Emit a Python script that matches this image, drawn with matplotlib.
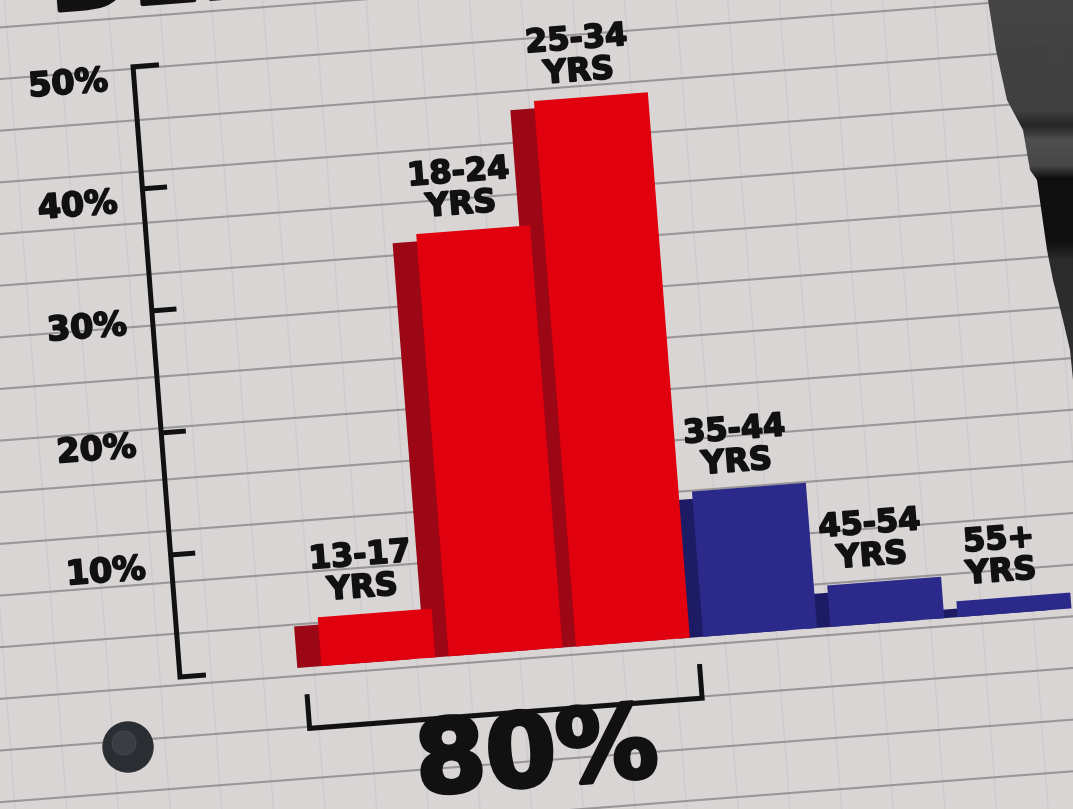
import numpy as np
import matplotlib
matplotlib.use("Agg")
import matplotlib.pyplot as plt
from matplotlib.transforms import Affine2D
from matplotlib.patches import Circle, Polygon
import matplotlib.patheffects as pe

# ---------------- data ----------------
categories = ["13-17", "18-24", "25-34", "35-44", "45-54", "55+"]
values = [4.0, 34.6, 44.7, 11.9, 3.4, 1.3]          # percent of audience
groups = ["core", "core", "core", "other", "other", "other"]
ytick_values = [10, 20, 30, 40, 50]
ytick_labels = ["10%", "20%", "30%", "40%", "50%"]
bracket_label = "80%"
title_text = "DEMOGRAPHICS"

# ---------------- style ----------------
W, H = 1073, 809
PAPER = "#d9d5d5"
RULE = "#8e8b8d"
INK = "#111111"
BRIGHT = {"core": "#e0000e", "other": "#2b2a8a"}
SHADE = {"core": "#9b0714", "other": "#1d1b63"}
ANGLE = 4.4                      # whole sheet is slightly tilted
PX_X, PX_Y = 127.6, 12.24        # pixels per bar slot / per percent
U0, V0 = 180, 132                # display position of the axis origin
X0 = U0 + 199                    # display x of first bar centre (unrotated)
BAR_W = 0.895
SHADOW = 0.19
FONT = "DejaVu Sans"
HEAVY = [pe.withStroke(linewidth=1.3, foreground=INK)]
HEAVY_BIG = [pe.withStroke(linewidth=3.0, foreground=INK)]

fig = plt.figure(figsize=(W / 100, H / 100), dpi=100)
fig.patch.set_facecolor(PAPER)

# background layer in image pixel coordinates
bg = fig.add_axes([0, 0, 1, 1], zorder=0)
bg.set_xlim(0, W)
bg.set_ylim(H, 0)
bg.axis("off")

# chart layer
ax = fig.add_axes([0, 0, 1, 1], zorder=1)
ax.axis("off")
ax.set_xlim(-X0 / PX_X, (W - X0) / PX_X)
ax.set_ylim(-V0 / PX_Y, (H - V0) / PX_Y)
rot = Affine2D().rotate_deg_around(U0, V0, ANGLE)
tr = ax.transData + rot

# ruled paper lines (in tilted frame)
for k in range(-8, 18):
    val = (-8 + 51.5 * k) / PX_Y
    bg.plot([-6, 10], [val, val], transform=tr, color=RULE, lw=1.5,
            alpha=0.85, zorder=1, solid_capstyle="butt")
# faint vertical grid of the paper
for k in range(-6, 24):
    xv = (-199 + 51.5 * k - 20) / PX_X
    bg.plot([xv, xv], [-40, 80], transform=tr, color="#bdb8b9",
            lw=1.0, alpha=0.35, zorder=0.5)

# dark background beyond the torn paper edge (top right)
edge = [(988, 0), (996, 50), (1007, 100), (1023, 130), (1030, 170),
        (1037, 180), (1047, 250), (1053, 280), (1063, 320), (1070, 350),
        (1073, 380), (1073, 0)]
poly = Polygon(edge, closed=True, facecolor="none", lw=0, zorder=3)
bg.add_patch(poly)
stops_y = [0, 110, 125, 140, 165, 178, 240, 260, 380]
stops_g = [0.27, 0.25, 0.15, 0.31, 0.28, 0.06, 0.06, 0.17, 0.19]
yy = np.arange(H)
gray = np.interp(yy, stops_y, stops_g)
img = np.repeat(gray[:, None], 4, axis=1)
im = bg.imshow(img, cmap="gray", vmin=0, vmax=1, extent=(980, W, H, 0),
               aspect="auto", zorder=3, interpolation="bilinear")
im.set_clip_path(poly)
bg.set_xlim(0, W)
bg.set_ylim(H, 0)

# punched hole
bg.add_patch(Circle((128, 747), 25, color="#2a2d31", zorder=3))
bg.add_patch(Circle((124, 743), 12, color="#454b52", alpha=0.6, zorder=3.1))

# ---------------- bars ----------------
xs = np.arange(len(categories))
for i, (x, v, g) in enumerate(zip(xs, values, groups)):
    shade = ax.bar(x - SHADOW, max(v - 0.6, 0.3), width=BAR_W,
                   color=SHADE[g], zorder=19 - 2 * i, lw=0)
    main = ax.bar(x, v, width=BAR_W, color=BRIGHT[g], zorder=20 - 2 * i, lw=0)
    for p in list(shade.patches) + list(main.patches):
        p.set_transform(tr)
    ax.text(x - 0.08, v + 0.8, f"{categories[i]}\nYRS", transform=tr,
            rotation=ANGLE, rotation_mode="anchor", ha="center", va="bottom",
            multialignment="center", linespacing=1.05, fontsize=23,
            fontweight="bold", family=FONT, color=INK, zorder=30,
            path_effects=HEAVY)

# ---------------- y axis bracket ----------------
ax_x = -199 / PX_X
tick_len = 26 / PX_X
ax.plot([ax_x + tick_len, ax_x, ax_x, ax_x + tick_len], [50, 50, 0, 0],
        transform=tr, color=INK, lw=3.6, solid_joinstyle="miter",
        solid_capstyle="butt", zorder=25)
for tv, tl in zip(ytick_values, ytick_labels):
    if tv < 50:
        ax.plot([ax_x, ax_x + tick_len * 0.95], [tv, tv], transform=tr,
                color=INK, lw=3.6, solid_capstyle="butt", zorder=25)
    ax.text(ax_x - 26 / PX_X, tv - 1.0, tl, transform=tr, rotation=ANGLE,
            rotation_mode="anchor", ha="right", va="center", fontsize=24,
            fontweight="bold", family=FONT, color=INK, zorder=30,
            path_effects=HEAVY)

# ---------------- bottom bracket (first three groups) ----------------
bl = xs[0] - BAR_W / 2 - SHADOW + 0.06
br = xs[2] + BAR_W / 2 + 0.06
ax.plot([bl, bl, br, br], [-2.2, -5.0, -5.0, -2.2], transform=tr,
        color=INK, lw=3.6, solid_joinstyle="miter", solid_capstyle="butt",
        zorder=25)
ax.text(1.18, -8.75, bracket_label, transform=tr, rotation=ANGLE,
        rotation_mode="anchor", ha="center", va="center", fontsize=73,
        fontweight="bold", family=FONT, color=INK, zorder=30,
        path_effects=HEAVY_BIG)

# ---------------- cut-off title ----------------
ax.text(-2.17, 55.05, title_text, transform=tr, rotation=ANGLE,
        rotation_mode="anchor", ha="left", va="baseline", fontsize=72,
        fontweight="bold", family=FONT, color=INK, zorder=30,
        path_effects=HEAVY_BIG)

fig.savefig("out.png", dpi=100, facecolor=PAPER)
